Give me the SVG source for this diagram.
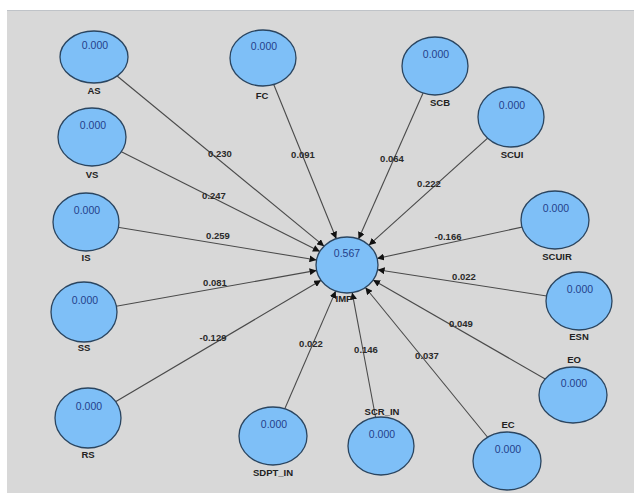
<svg xmlns="http://www.w3.org/2000/svg" width="634" height="495" viewBox="0 0 634 495">
<defs>
<marker id="arr" viewBox="0 0 8 8" refX="8" refY="4" markerWidth="7" markerHeight="7" orient="auto" markerUnits="userSpaceOnUse">
<path d="M0,0 L8,4 L0,8 z" fill="#111"/>
</marker>
</defs>
<style>
.bg{fill:#d8d8d8}
.node ellipse{fill:#7ebff7;stroke:#2a4560;stroke-width:1.3}
.val{font-family:"Liberation Sans",Arial,sans-serif;font-size:10.5px;fill:#24418a;text-anchor:middle}
.lbl{font-family:"Liberation Sans",Arial,sans-serif;font-size:9.5px;font-weight:bold;fill:#222;text-anchor:middle}
.edge line{stroke:#4a4a4a;stroke-width:1.1;marker-end:url(#arr)}
.elbl{font-family:"Liberation Sans",Arial,sans-serif;font-size:9.5px;font-weight:bold;fill:#2a2a2a;text-anchor:middle}
</style>
<rect x="0" y="0" width="634" height="495" fill="#ffffff"/>
<rect class="bg" x="7" y="10" width="627" height="483"/>
<line x1="7" y1="10.5" x2="634" y2="10.5" stroke="#bfc3c8" stroke-width="1"/>
<g id="connectors" class="edge">
<line x1="94" y1="57" x2="324.1" y2="246.2"/>
<line x1="263" y1="58" x2="336.3" y2="238.7"/>
<line x1="435" y1="66" x2="358.5" y2="239.0"/>
<line x1="511" y1="117" x2="368.9" y2="245.2"/>
<line x1="555" y1="220" x2="377.1" y2="258.5"/>
<line x1="579" y1="301" x2="377.6" y2="269.7"/>
<line x1="573" y1="395" x2="373.1" y2="280.0"/>
<line x1="507" y1="461" x2="365.4" y2="287.5"/>
<line x1="381" y1="446" x2="352.2" y2="292.6"/>
<line x1="273" y1="436" x2="335.7" y2="291.1"/>
<line x1="88" y1="418" x2="321.1" y2="280.3"/>
<line x1="84" y1="312" x2="316.6" y2="270.4"/>
<line x1="86" y1="222" x2="316.5" y2="260.0"/>
<line x1="92" y1="137" x2="319.9" y2="251.4"/>
</g>
<g id="edge-labels">
<text class="elbl" x="220" y="157">0.230</text>
<text class="elbl" x="303" y="158">0.091</text>
<text class="elbl" x="214" y="199">0.247</text>
<text class="elbl" x="218" y="239">0.259</text>
<text class="elbl" x="392" y="162">0.064</text>
<text class="elbl" x="429" y="187">0.222</text>
<text class="elbl" x="448" y="240">-0.166</text>
<text class="elbl" x="464" y="280">0.022</text>
<text class="elbl" x="461" y="327">0.049</text>
<text class="elbl" x="427" y="359">0.037</text>
<text class="elbl" x="366" y="353">0.146</text>
<text class="elbl" x="311" y="347">0.022</text>
<text class="elbl" x="215" y="286">0.081</text>
<text class="elbl" x="213" y="341">-0.129</text>
</g>
<g id="AS" class="node"><ellipse cx="94" cy="57" rx="34" ry="26"/><text class="val" x="95" y="49">0.000</text><text class="lbl" x="94" y="94">AS</text></g>
<g id="FC" class="node"><ellipse cx="263" cy="58" rx="33" ry="28"/><text class="val" x="264" y="50">0.000</text><text class="lbl" x="262" y="99">FC</text></g>
<g id="VS" class="node"><ellipse cx="92" cy="137" rx="34" ry="29"/><text class="val" x="93" y="129">0.000</text><text class="lbl" x="92" y="178">VS</text></g>
<g id="IS" class="node"><ellipse cx="86" cy="222" rx="33" ry="29"/><text class="val" x="87" y="214">0.000</text><text class="lbl" x="86" y="261">IS</text></g>
<g id="SS" class="node"><ellipse cx="84" cy="312" rx="33" ry="30"/><text class="val" x="85" y="304">0.000</text><text class="lbl" x="84" y="351">SS</text></g>
<g id="RS" class="node"><ellipse cx="88" cy="418" rx="33" ry="30"/><text class="val" x="89" y="410">0.000</text><text class="lbl" x="88" y="458">RS</text></g>
<g id="SDPT_IN" class="node"><ellipse cx="273" cy="436" rx="34" ry="29"/><text class="val" x="274" y="428">0.000</text><text class="lbl" x="273" y="476">SDPT_IN</text></g>
<g id="SCR_IN" class="node"><ellipse cx="381" cy="446" rx="33" ry="29"/><text class="val" x="382" y="438">0.000</text><text class="lbl" x="382" y="415">SCR_IN</text></g>
<g id="EC" class="node"><ellipse cx="507" cy="461" rx="34" ry="29"/><text class="val" x="508" y="453">0.000</text><text class="lbl" x="508" y="428">EC</text></g>
<g id="EO" class="node"><ellipse cx="573" cy="395" rx="34" ry="28"/><text class="val" x="574" y="387">0.000</text><text class="lbl" x="574" y="363">EO</text></g>
<g id="ESN" class="node"><ellipse cx="579" cy="301" rx="33" ry="29"/><text class="val" x="580" y="293">0.000</text><text class="lbl" x="579" y="340">ESN</text></g>
<g id="SCUIR" class="node"><ellipse cx="555" cy="220" rx="34" ry="29"/><text class="val" x="556" y="212">0.000</text><text class="lbl" x="557" y="260">SCUIR</text></g>
<g id="SCUI" class="node"><ellipse cx="511" cy="117" rx="33" ry="30"/><text class="val" x="512" y="109">0.000</text><text class="lbl" x="512" y="158">SCUI</text></g>
<g id="SCB" class="node"><ellipse cx="435" cy="66" rx="33" ry="29"/><text class="val" x="436" y="58">0.000</text><text class="lbl" x="440" y="106">SCB</text></g>
<g id="IMP" class="node"><ellipse cx="347" cy="265" rx="31" ry="28"/><text class="val" x="347" y="257">0.567</text><text class="lbl" x="344" y="302">IMP</text></g>
</svg>
